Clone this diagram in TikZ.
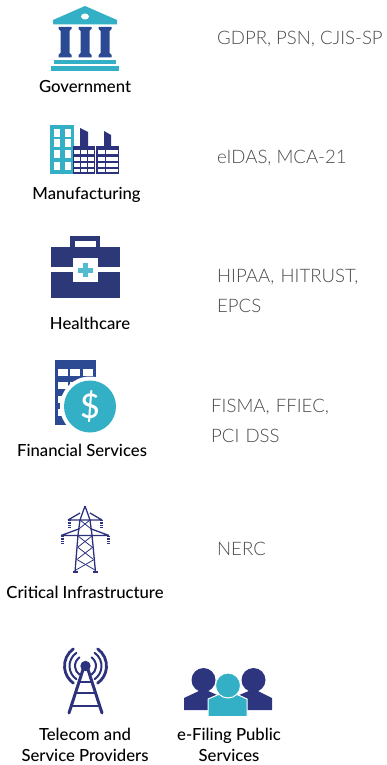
\documentclass[tikz,border=0pt]{standalone}
\usepackage{fontspec}
\setmainfont{Lato}
\newfontfamily\lightfont{Lato Light}
\newfontfamily\medfont{Lato Medium}
\definecolor{teal1}{HTML}{33AFC6}
\definecolor{blue1}{HTML}{2B4A93}
\definecolor{navy1}{HTML}{2C337C}
\definecolor{navy2}{HTML}{2C3878}
\definecolor{txt}{HTML}{4A4A4A}
\tikzset{
  lab/.style={font=\medfont\fontsize{16.7}{21}\selectfont, text=black, align=center, inner sep=0pt},
  std/.style={font=\lightfont\fontsize{18.6}{30}\selectfont, text=txt, align=left, inner sep=0pt, anchor=west},
  wire/.style={draw=navy1, line width=1.3pt},
  thin wire/.style={draw=navy1, line width=.8pt},
  insul/.style={draw=navy1, line width=3pt, dash pattern=on .9pt off .8pt}
}
\begin{document}
\begin{tikzpicture}[x=1pt,y=-1pt]
\useasboundingbox (0,0) rectangle (386,765);
% Government
\fill[teal1] (85,6)--(53,20)--(53,24.5)--(117,24.5)--(117,20)--cycle;
\fill[white] (85,16.5) ellipse [x radius=4pt,y radius=3pt];
\foreach \c in {65,85,105}{
 \fill[blue1] (\c-6.5,27)--(\c+6.5,27)--(\c+6.5,29)--(\c+4.5,31)--(\c+4.5,53)--(\c+6.5,55)--(\c+6.5,57.5)--(\c-6.5,57.5)--(\c-6.5,55)--(\c-4.5,53)--(\c-4.5,31)--(\c-6.5,29)--cycle;
}
\fill[teal1] (54,60) rectangle (116,64);
\fill[teal1] (51,66) rectangle (119,71);
\node[lab] (gov) at (85,86.5) {Government};
\node[std] (govs) at (217,39.5) {GDPR, PSN, CJIS-SP};
% Manufacturing
\fill[teal1] (50,125) rectangle (74,174);
\foreach \y/\h in {129/8,139/8,150/8,162/8}{
 \foreach \x in {54,65}{\fill[white] (\x,\y) rectangle ++(6,\h);}
}
\fill[navy1] (73,146) rectangle (95,174);
\fill[navy1] (96,146) rectangle (119,174);
\fill[navy1] (80,128)--(88,132)--(88,146)--(80,146)--cycle;
\fill[navy1] (104,131)--(111,135)--(111,146)--(104,146)--cycle;
\foreach \y in {150,157,163,168.5}{
 \foreach \x in {74,81,88}{\fill[white] (\x,\y) rectangle ++(6,3.6);}
 \fill[white] (98,\y) rectangle ++(6.5,3.6);
 \fill[white] (106,\y) rectangle (117.5,\y+3.6);
}
\node[lab] (man) at (86.5,194.5) {Manufacturing};
\node[std] (mans) at (217,158.5) {eIDAS, MCA-21};
% Healthcare
\fill[navy2] (70,236) rectangle (100,248);
\fill[white] (75,241) rectangle (96,247);
\fill[navy2] (51,247) rectangle (120,297.5);
\fill[white] (51,267) rectangle (120,272);
\fill[white] (73,258) rectangle (98,282);
\fill[teal1!85!white] (83,263) rectangle (88,277);
\fill[teal1!85!white] (78,267.5) rectangle (93,272.5);
\node[lab] (hea) at (90,323.5) {Healthcare};
\node[std,text width=170pt] (heas) at (217,291) {HIPAA, HITRUST,\\EPCS};
% Financial
\fill[blue1] (55,360) rectangle (96,425);
\foreach \y in {369,382,396,409}{
 \foreach \x in {58,70,83}{\fill[white] (\x,\y) rectangle ++(10,6.5);}
}
\fill[white] (90,406.5) circle [radius=30pt];
\fill[teal1] (90,406.5) circle [radius=26pt];
\node[inner sep=0pt,text=white,font=\medfont\fontsize{34}{34}\selectfont] (dol) at (90,406.5) {\$};
\node[lab] (fin) at (82,450.5) {Financial Services};
\node[std,text width=170pt] (fins) at (211,421) {FISMA, FFIEC,\\PCI DSS};
% Critical infrastructure
\draw[wire] (85,506)--(80,520)--(78,535)--(75,572);
\draw[wire] (85,506)--(90,520)--(92,535)--(95.5,572);
\draw[wire] (68,520)--(102,520) (68,520)--(80,513) (102,520)--(90,513);
\draw[wire] (61,535.5)--(109,535.5) (61,535.5)--(80,528.5) (109,535.5)--(90,528.5);
\draw[wire] (72.5,572)--(78,572) (92.5,572)--(98,572);
\foreach \a/\b/\c/\d in {80/520/90/528, 90/520/80/528, 78/536/92/547, 92/536/78/547, 77.5/547/93/559, 93/547/77.5/559, 76/559/95/570, 95/559/76/570}{
  \draw[thin wire] (\a,\b)--(\c,\d);
}
\foreach \x/\t in {69/520,101/520,62/536,108/536}{
  \draw[insul] (\x,\t)--(\x,\t+7);
}
\node[lab] (cri) at (85,592.5) {Critical Infrastructure};
\node[std] (cris) at (217,548.5) {NERC};
% Telecom
\draw[navy1,line width=3pt,line cap=round] (69,713)--(83.5,668);
\draw[navy1,line width=3pt,line cap=round] (102,713)--(87.5,668);
\draw[navy1,line width=2.2pt] (79,682)--(92,682) (76,693)--(95,693) (71.5,706)--(99.5,706);
\fill[navy1] (85.5,666) circle [radius=5.2pt];
\foreach \r/\w in {10.5/2,16/2,21/2.8}{
  \draw[navy1,line width=\w pt,line cap=round] (85.5,666)++(125:\r pt) arc[start angle=125,end angle=235,radius=\r pt];
  \draw[navy1,line width=\w pt,line cap=round] (85.5,666)++(55:\r pt) arc[start angle=55,end angle=-55,radius=\r pt];
}
\node[lab] (tel) at (85,745) {Telecom and\\Service Providers};
% People
\fill[navy1!90!blue1] (184,710)--(184,698)--(200,690.5)--(207,690.5)--(224,698)--(224,710)--cycle;
\fill[navy1!90!blue1] (272,710)--(272,698)--(257,690.5)--(250,690.5)--(232,698)--(232,710)--cycle;
\fill[navy1!90!blue1] (203.5,680) circle [radius=12pt];
\fill[navy1!90!blue1] (253.5,680) circle [radius=12pt];
\fill[teal1,draw=white,line width=1pt] (208,716.5)--(208,699)--(222,693)--(234,693)--(247,699)--(247,716.5)--cycle;
\fill[teal1,draw=white,line width=1pt] (228,685.5) circle [radius=12.5pt];
\node[lab] (efi) at (229,745) {e-Filing Public\\Services};
\end{tikzpicture}
\end{document}
